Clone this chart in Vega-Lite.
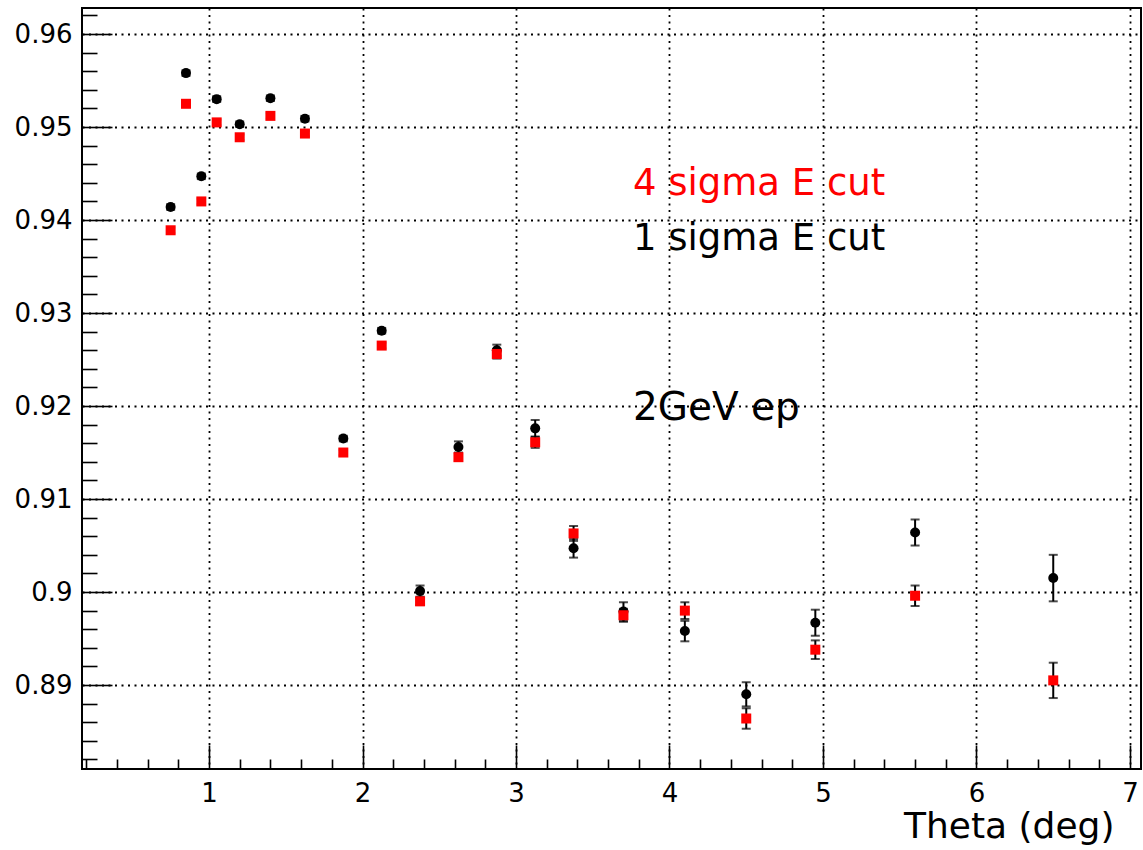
{
  "$schema": "https://vega.github.io/schema/vega-lite/v6.json",
  "width": 1059,
  "height": 761,
  "autosize": {"type": "none"},
  "padding": {"left": 82, "top": 8, "right": 2, "bottom": 81},
  "background": "white",
  "config": {
    "view": {"stroke": "black", "strokeWidth": 2},
    "axis": {
      "labelFont": "DejaVu Sans",
      "labelFontSize": 26,
      "labelColor": "black",
      "tickColor": "black",
      "tickWidth": 1.6,
      "domain": false,
      "titleFont": "DejaVu Sans",
      "titleColor": "black"
    }
  },
  "datasets": {
    "eff": [
      {"theta": 0.75, "eff": 0.9414, "err": 0.0003, "cut": "1 sigma"},
      {"theta": 0.85, "eff": 0.9558, "err": 0.0003, "cut": "1 sigma"},
      {"theta": 0.95, "eff": 0.9447, "err": 0.0003, "cut": "1 sigma"},
      {"theta": 1.05, "eff": 0.9530, "err": 0.0003, "cut": "1 sigma"},
      {"theta": 1.2, "eff": 0.9503, "err": 0.0003, "cut": "1 sigma"},
      {"theta": 1.4, "eff": 0.9531, "err": 0.0003, "cut": "1 sigma"},
      {"theta": 1.625, "eff": 0.9509, "err": 0.0003, "cut": "1 sigma"},
      {"theta": 1.875, "eff": 0.9165, "err": 0.0003, "cut": "1 sigma"},
      {"theta": 2.125, "eff": 0.9281, "err": 0.0003, "cut": "1 sigma"},
      {"theta": 2.375, "eff": 0.9001, "err": 0.0006, "cut": "1 sigma"},
      {"theta": 2.625, "eff": 0.9156, "err": 0.0006, "cut": "1 sigma"},
      {"theta": 2.875, "eff": 0.9260, "err": 0.0006, "cut": "1 sigma"},
      {"theta": 3.125, "eff": 0.9176, "err": 0.0009, "cut": "1 sigma"},
      {"theta": 3.375, "eff": 0.9047, "err": 0.0010, "cut": "1 sigma"},
      {"theta": 3.7, "eff": 0.8979, "err": 0.0010, "cut": "1 sigma"},
      {"theta": 4.1, "eff": 0.8958, "err": 0.0011, "cut": "1 sigma"},
      {"theta": 4.5, "eff": 0.8890, "err": 0.0013, "cut": "1 sigma"},
      {"theta": 4.95, "eff": 0.8967, "err": 0.0014, "cut": "1 sigma"},
      {"theta": 5.6, "eff": 0.9064, "err": 0.0014, "cut": "1 sigma"},
      {"theta": 6.5, "eff": 0.9015, "err": 0.0025, "cut": "1 sigma"},
      {"theta": 0.75, "eff": 0.9389, "err": 0.0003, "cut": "4 sigma"},
      {"theta": 0.85, "eff": 0.9525, "err": 0.0003, "cut": "4 sigma"},
      {"theta": 0.95, "eff": 0.9420, "err": 0.0003, "cut": "4 sigma"},
      {"theta": 1.05, "eff": 0.9505, "err": 0.0003, "cut": "4 sigma"},
      {"theta": 1.2, "eff": 0.9489, "err": 0.0003, "cut": "4 sigma"},
      {"theta": 1.4, "eff": 0.9512, "err": 0.0003, "cut": "4 sigma"},
      {"theta": 1.625, "eff": 0.9493, "err": 0.0003, "cut": "4 sigma"},
      {"theta": 1.875, "eff": 0.9150, "err": 0.0003, "cut": "4 sigma"},
      {"theta": 2.125, "eff": 0.9265, "err": 0.0003, "cut": "4 sigma"},
      {"theta": 2.375, "eff": 0.8990, "err": 0.0004, "cut": "4 sigma"},
      {"theta": 2.625, "eff": 0.9145, "err": 0.0004, "cut": "4 sigma"},
      {"theta": 2.875, "eff": 0.9256, "err": 0.0005, "cut": "4 sigma"},
      {"theta": 3.125, "eff": 0.9161, "err": 0.0006, "cut": "4 sigma"},
      {"theta": 3.375, "eff": 0.9063, "err": 0.0008, "cut": "4 sigma"},
      {"theta": 3.7, "eff": 0.8975, "err": 0.0007, "cut": "4 sigma"},
      {"theta": 4.1, "eff": 0.8980, "err": 0.0009, "cut": "4 sigma"},
      {"theta": 4.5, "eff": 0.8864, "err": 0.0011, "cut": "4 sigma"},
      {"theta": 4.95, "eff": 0.8938, "err": 0.0010, "cut": "4 sigma"},
      {"theta": 5.6, "eff": 0.8996, "err": 0.0011, "cut": "4 sigma"},
      {"theta": 6.5, "eff": 0.8905, "err": 0.0019, "cut": "4 sigma"}
    ],
    "notes": [
      {"theta": 3.762, "eff": 0.9427, "note": "4 sigma E cut"},
      {"theta": 3.762, "eff": 0.9368, "note": "1 sigma E cut"},
      {"theta": 3.762, "eff": 0.9185, "note": "2GeV ep"}
    ]
  },
  "layer": [
    {
      "data": {"name": "eff"},
      "mark": {"type": "errorbar", "color": "black", "size": 9, "thickness": 2, "ticks": true},
      "encoding": {
        "x": {"field": "theta", "type": "quantitative", "axis": null, "scale": {"domain": [0.1726, 7.0717], "nice": false, "zero": false}},
        "y": {"field": "eff", "type": "quantitative", "axis": null, "scale": {"domain": [0.88097, 0.96280], "nice": false, "zero": false}},
        "yError": {"field": "err"}
      }
    },
    {
      "data": {"name": "eff"},
      "transform": [{"filter": "datum.cut == '1 sigma'"}],
      "mark": {"type": "point", "shape": "circle", "filled": true, "color": "black", "size": 100, "opacity": 1},
      "encoding": {
        "x": {"field": "theta", "type": "quantitative",
          "scale": {"domain": [0.1726, 7.0717], "nice": false, "zero": false},
          "axis": {"orient": "bottom", "values": [1, 2, 3, 4, 5, 6, 7], "format": "d", "ticks": false,
            "grid": true, "gridColor": "black", "gridDash": [2, 4.5], "gridWidth": 1.8, "gridOpacity": 1,
            "labelPadding": 11, "labelFontSize": 26, "labelFlush": false,
            "title": "Theta (deg)", "titleFontSize": 36, "titleFontWeight": "normal",
            "titleAlign": "right", "titleBaseline": "alphabetic", "titleX": 1032, "titleY": 68}},
        "y": {"field": "eff", "type": "quantitative",
          "scale": {"domain": [0.88097, 0.96280], "nice": false, "zero": false},
          "axis": {"orient": "left", "values": [0.89, 0.9, 0.91, 0.92, 0.93, 0.94, 0.95, 0.96], "format": ".2~f", "ticks": false,
            "grid": true, "gridColor": "black", "gridDash": [2, 4.5], "gridWidth": 1.8, "gridOpacity": 1,
            "labelPadding": 10, "labelFontSize": 26, "labelFlush": false, "title": null}}
      }
    },
    {
      "data": {"name": "eff"},
      "transform": [{"filter": "datum.cut == '4 sigma'"}],
      "mark": {"type": "square", "color": "#ff0000", "size": 100, "opacity": 1},
      "encoding": {
        "x": {"field": "theta", "type": "quantitative",
          "scale": {"domain": [0.1726, 7.0717], "nice": false, "zero": false},
          "axis": {"orient": "bottom", "values": [1, 2, 3, 4, 5, 6, 7], "labels": false, "grid": false, "ticks": true, "tickSize": -24, "title": null}},
        "y": {"field": "eff", "type": "quantitative",
          "scale": {"domain": [0.88097, 0.96280], "nice": false, "zero": false},
          "axis": {"orient": "left", "values": [0.89, 0.9, 0.91, 0.92, 0.93, 0.94, 0.95, 0.96], "labels": false, "grid": false, "ticks": true, "tickSize": -30, "title": null}}
      }
    },
    {
      "data": {"name": "notes"},
      "transform": [{"filter": "datum.note != '2GeV ep'"}],
      "mark": {"type": "text", "font": "DejaVu Sans", "fontSize": 37, "align": "left", "baseline": "alphabetic"},
      "encoding": {
        "x": {"field": "theta", "type": "quantitative",
          "scale": {"domain": [0.1726, 7.0717], "nice": false, "zero": false},
          "axis": {"orient": "bottom", "values": [0.2, 0.4, 0.6, 0.8, 1.2, 1.4, 1.6, 1.8, 2.2, 2.4, 2.6, 2.8, 3.2, 3.4, 3.6, 3.8, 4.2, 4.4, 4.6, 4.8, 5.2, 5.4, 5.6, 5.8, 6.2, 6.4, 6.6, 6.8],
            "labels": false, "grid": false, "ticks": true, "tickSize": -10, "title": null}},
        "y": {"field": "eff", "type": "quantitative",
          "scale": {"domain": [0.88097, 0.96280], "nice": false, "zero": false},
          "axis": {"orient": "left", "values": [0.882, 0.884, 0.886, 0.888, 0.892, 0.894, 0.896, 0.898, 0.902, 0.904, 0.906, 0.908, 0.912, 0.914, 0.916, 0.918, 0.922, 0.924, 0.926, 0.928, 0.932, 0.934, 0.936, 0.938, 0.942, 0.944, 0.946, 0.948, 0.952, 0.954, 0.956, 0.958, 0.962],
            "labels": false, "grid": false, "ticks": true, "tickSize": -15, "title": null}},
        "text": {"field": "note"},
        "color": {"field": "note", "type": "nominal", "scale": {"domain": ["4 sigma E cut", "1 sigma E cut"], "range": ["#ff0000", "black"]}, "legend": null}
      }
    },
    {
      "data": {"name": "notes"},
      "transform": [{"filter": "datum.note == '2GeV ep'"}],
      "mark": {"type": "text", "font": "DejaVu Sans", "fontSize": 39, "align": "left", "baseline": "alphabetic", "color": "black"},
      "encoding": {
        "x": {"field": "theta", "type": "quantitative", "axis": null,
          "scale": {"domain": [0.1726, 7.0717], "nice": false, "zero": false}},
        "y": {"field": "eff", "type": "quantitative", "axis": null,
          "scale": {"domain": [0.88097, 0.96280], "nice": false, "zero": false}},
        "text": {"field": "note"}
      }
    }
  ],
  "resolve": {"axis": {"x": "independent", "y": "independent"}}
}
